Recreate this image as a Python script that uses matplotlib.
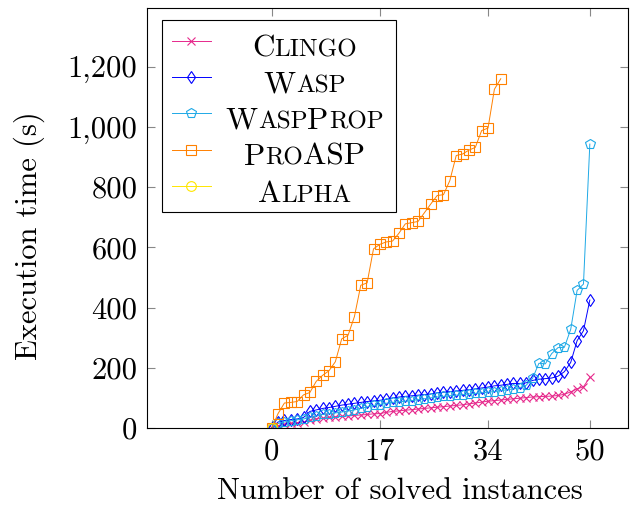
import matplotlib
matplotlib.use('Agg')
import matplotlib.pyplot as plt
from matplotlib.ticker import FuncFormatter, FixedLocator
from matplotlib.font_manager import FontProperties
from matplotlib.transforms import IdentityTransform

plt.rcParams['font.family'] = 'cmr10'
plt.rcParams['mathtext.fontset'] = 'cm'
plt.rcParams['axes.formatter.use_mathtext'] = True

# solved-instance time curves (s), index = number of solved instances
labels = ['Clingo', 'Wasp', 'WaspProp', 'ProASP', 'Alpha']
clingo = [0, 8, 12, 15, 18, 20, 25, 30, 33, 35, 37, 39, 40, 42, 43, 45, 47, 48, 52, 55,
          57, 59, 61, 63, 65, 67, 69, 71, 73, 75, 77, 80, 83, 86, 89, 91, 93, 95, 97, 99,
          101, 103, 104, 105, 106, 108, 112, 120, 130, 137, 168]
wasp = [0, 20, 25, 28, 30, 35, 55, 60, 65, 68, 72, 76, 79, 82, 85, 88, 90, 92, 95, 100,
        103, 105, 107, 109, 111, 113, 117, 119, 121, 123, 125, 127, 130, 133, 136, 140, 142, 145, 148, 148,
        150, 158, 162, 164, 166, 172, 187, 218, 290, 323, 425]
waspprop = [0, 15, 20, 24, 27, 30, 35, 40, 45, 48, 50, 53, 56, 60, 65, 70, 75, 78, 82, 85,
            87, 89, 91, 94, 97, 100, 103, 105, 107, 109, 111, 113, 115, 117, 119, 121, 124, 127, 130, 134,
            142, 165, 215, 213, 247, 267, 268, 328, 457, 478, 943]
proasp = [0, 48, 83, 85, 88, 110, 118, 155, 175, 190, 220, 296, 308, 370, 474, 482, 595, 610, 618, 621,
          647, 678, 682, 686, 715, 744, 772, 775, 822, 905, 910, 923, 932, 988, 996, 1125, 1160]
alpha = [0]

xticks = [0, 17, 34, 50]
yticks = [0, 200, 400, 600, 800, 1000, 1200]

series = [clingo, wasp, waspprop, proasp, alpha]
colors = ['#e6288c', '#0000ff', '#1ea9e6', '#ff8000', '#ffe600']
markers = ['x', 'd', 'p', 's', 'o']
msizes = [6, 6.2, 7.2, 7, 7]

fig = plt.figure(figsize=(6.43, 5.08), dpi=100)
ax = fig.add_axes([147/643, 80/508, 481/643, 420/508])

for vals, c, m, ms, lab in zip(series, colors, markers, msizes, labels):
    ax.plot(range(len(vals)), vals, color=c, marker=m, markersize=ms, mfc='none',
            mec=c, mew=0.8, lw=0.7, label=lab)

ax.set_xlim(-19.6, 56)
ax.set_ylim(0, 1395)
ax.xaxis.set_major_locator(FixedLocator(xticks))
ax.yaxis.set_major_locator(FixedLocator(yticks))
ax.yaxis.set_major_formatter(FuncFormatter(lambda v, p: f'{int(v):,}'))
ax.xaxis.set_major_formatter(FuncFormatter(lambda v, p: f'{int(v)}'))
ax.tick_params(direction='in', length=6, width=0.8, color='#888888',
               top=True, right=True, labelsize=22, pad=7)
for sp in ax.spines.values():
    sp.set_linewidth(0.8)

ax.set_xlabel('Number of solved instances', fontsize=22)
ax.set_ylabel('Execution time (s)', fontsize=22)
ax.xaxis.set_label_coords(0.525, -0.118)
ax.yaxis.set_label_coords(-0.213, 0.457)

# placeholder labels, replaced below with small caps text
BIG, SMALL = 22.5, 18
def sc_runs(s):
    runs = []
    for ch in s:
        big = not ch.islower()
        if runs and runs[-1][1] == big:
            runs[-1][0] += ch.upper()
        else:
            runs.append([ch.upper(), big])
    return runs

leg = ax.legend(loc='upper left', bbox_to_anchor=(0.031, 0.971), borderaxespad=0,
                fancybox=False, edgecolor='black', framealpha=1, fontsize=20,
                handlelength=1.4, handletextpad=0.45, borderpad=0.36, labelspacing=0.36)
leg.get_frame().set_linewidth(0.8)
for t, lab in zip(leg.get_texts(), labels):
    t.set_text(lab.upper())

fig.canvas.draw()
r = fig.canvas.get_renderer()
texts = leg.get_texts()
exts = [t.get_window_extent(r) for t in texts]
cx = exts[0].x0 + max(e.width for e in exts) / 2
for t, e, lab in zip(texts, exts, labels):
    _, _, d = r.get_text_width_height_descent(t.get_text(), t.get_fontproperties(), ismath=False)
    base = e.y0 + d
    runs = sc_runs(lab)
    widths = []
    for s, big in runs:
        fp = FontProperties(family='cmr10', size=BIG if big else SMALL)
        w, h, dd = r.get_text_width_height_descent(s, fp, ismath=False)
        widths.append(w)
    x = cx - sum(widths) / 2
    for (s, big), w in zip(runs, widths):
        fig.text(x, base, s, transform=IdentityTransform(), fontsize=BIG if big else SMALL,
                 family='cmr10', ha='left', va='baseline', zorder=10)
        x += w
    t.set_visible(False)

fig.savefig('out.png', dpi=100)
